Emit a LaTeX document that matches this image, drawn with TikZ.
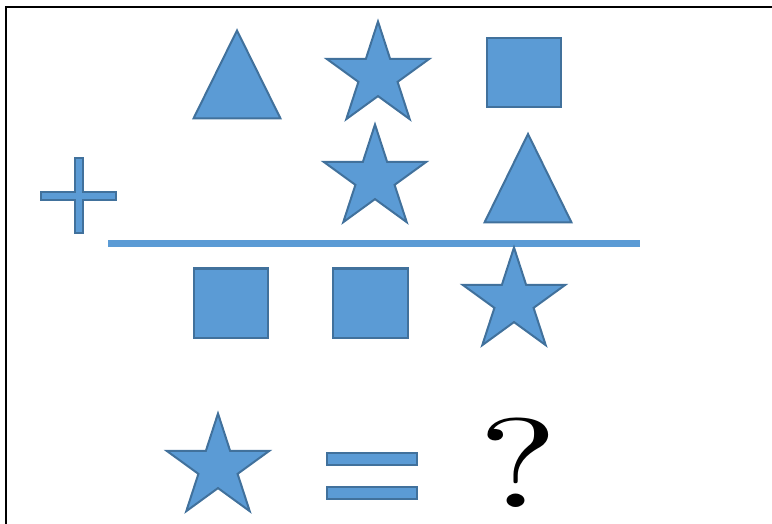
\documentclass[tikz,border=0pt]{standalone}
\usepackage{graphicx}
\definecolor{shapefill}{HTML}{5B9BD5}
\definecolor{shapeline}{HTML}{41719C}
\tikzset{shp/.style={fill=shapefill,draw=shapeline,line width=2pt,line join=miter}}
\newcommand\mystar[2]{\filldraw[shp,shift={(#1,#2)}] (90:54pt) -- (126:20.6pt) -- (162:54pt) -- (198:20.6pt) -- (234:54pt) -- (270:20.6pt) -- (306:54pt) -- (342:20.6pt) -- (18:54pt) -- (54:20.6pt) -- cycle;}
\begin{document}
\begin{tikzpicture}[x=1pt,y=-1pt]
\useasboundingbox (0,0) rectangle (772,524);
% frame
\draw[line width=2pt,black] (6,524) -- (6,7) -- (772,7);
% top row
\filldraw[shp] (193.5,118.5) -- (237,30.5) -- (280.5,118.5) -- cycle;
\mystar{378}{75.5}
\filldraw[shp] (487,38.5) rectangle (561,107.5);
% second row
\filldraw[shp] (74.5,158) -- (82.5,158) -- (82.5,192) -- (115.5,192) -- (115.5,200) -- (82.5,200) -- (82.5,233) -- (74.5,233) -- (74.5,200) -- (40.5,200) -- (40.5,192) -- (74.5,192) -- cycle;
\mystar{375}{178.5}
\filldraw[shp] (484.5,222.5) -- (528,134) -- (571.5,222.5) -- cycle;
% bar
\fill[shapefill] (108,240) rectangle (640,247.5);
% result row
\filldraw[shp] (193.5,268.5) rectangle (268,338);
\filldraw[shp] (332.5,268.5) rectangle (407.5,338);
\mystar{514}{301.5}
% bottom line
\mystar{218}{467.5}
\filldraw[shp] (327,453) rectangle (417,465);
\filldraw[shp] (327,487) rectangle (417,499);
\node[anchor=base,inner sep=0pt] (q) at (518.5,507.5) {\scalebox{16.9}[12.7]{\fontsize{10}{12}\selectfont ?}};
\end{tikzpicture}
\end{document}
